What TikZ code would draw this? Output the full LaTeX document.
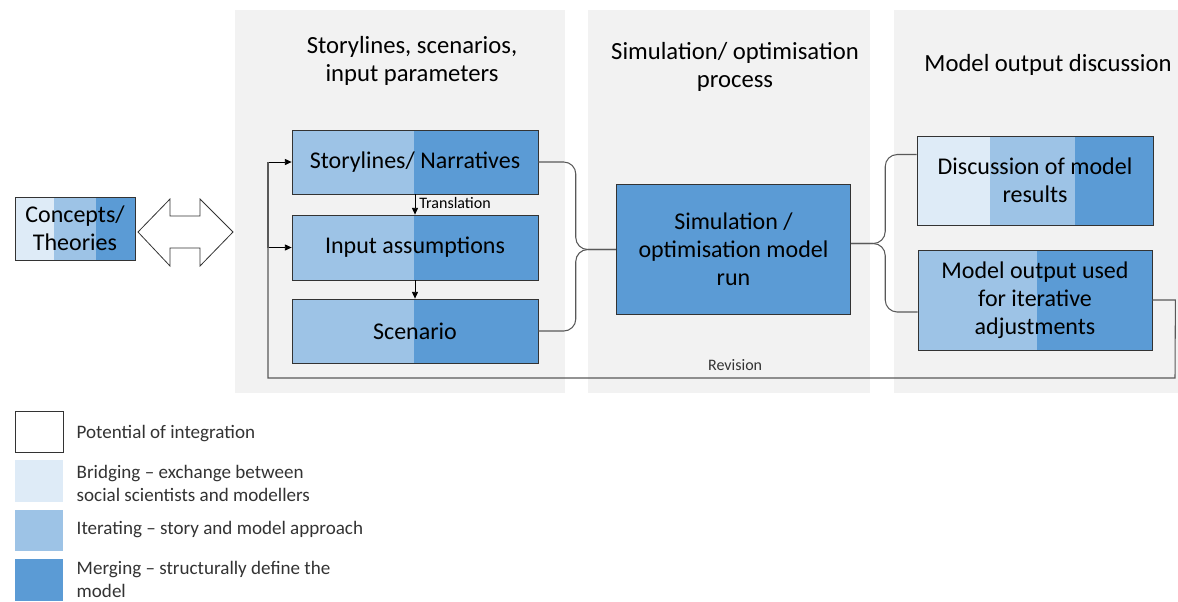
\documentclass[tikz,border=0pt]{standalone}
\usepackage{fontspec}
\setmainfont{Carlito}
\usetikzlibrary{arrows.meta, positioning, calc}

\definecolor{panelgrey}{HTML}{F2F2F2}
\definecolor{bridgeblue}{HTML}{DEEBF7}
\definecolor{iterblue}{HTML}{9DC3E6}
\definecolor{mergeblue}{HTML}{5B9BD5}
\definecolor{linegrey}{HTML}{595959}

\begin{document}
\begin{tikzpicture}[x=0.75pt, y=-0.75pt,
    box/.style={draw=black!80, line width=0.6pt, align=center, inner sep=0pt,
                font=\fontsize{18}{21}\selectfont},
    title/.style={align=center, font=\fontsize{18.5}{20.5}\selectfont},
    small/.style={font=\fontsize{12}{14}\selectfont, inner sep=1pt},
    legtext/.style={anchor=west, align=left, text=black!80,
                    font=\fontsize{14.3}{17.3}\selectfont},
    brace/.style={draw=linegrey, line width=0.8pt, rounded corners=9pt},
    loopline/.style={draw=linegrey, line width=0.8pt},
    arr/.style={-{Triangle[length=5pt,width=4.5pt]}, black, line width=0.6pt}]
                \useasboundingbox (0,0) rectangle (1178,601);

                % Panels
                \fill[panelgrey] (235,10) rectangle (565,393);
                \fill[panelgrey] (588,10) rectangle (870,393);
                \fill[panelgrey] (894,10) rectangle (1178,393);
                \node[title] (t1) at (412,61) {Storylines, scenarios,\\input parameters};
                \node[title] (t2) at (735,67) {Simulation/ optimisation\\process};
                \node[title] (t3) at (1048,65) {Model output discussion};

                % Concepts
                \fill[bridgeblue] (15,197) rectangle (54,260);
                \fill[iterblue] (54,197) rectangle (96,260);
                \fill[mergeblue] (96,197) rectangle (135,260);
                \node[box, minimum width=90pt, minimum height=47.25pt] (concepts) at (75,228.5) {Concepts/\\Theories};

                % Double arrow
                \draw[black!80, fill=white, line width=0.6pt]
                    (138,232) -- (170,199) -- (170,216) -- (200,216) -- (200,199)
                    -- (233,232) -- (200,266) -- (200,248) -- (170,248) -- (170,266) -- cycle;

                % Storylines column
                \fill[iterblue] (292,130) rectangle (414,194);
                \fill[mergeblue] (414,130) rectangle (538,194);
                \node[box, minimum width=184.5pt, minimum height=48pt] (story) at (415,162) {Storylines/ Narratives};
                \fill[iterblue] (292,215) rectangle (414,280);
                \fill[mergeblue] (414,215) rectangle (538,280);
                \node[box, minimum width=184.5pt, minimum height=48.75pt] (inp) at (415,247.5) {Input assumptions};
                \fill[iterblue] (292,299) rectangle (414,363);
                \fill[mergeblue] (414,299) rectangle (538,363);
                \node[box, minimum width=184.5pt, minimum height=48pt] (scen) at (415,331) {Scenario};

                \draw[arr] (story.south) -- (inp.north) node[small, pos=0.45, right=2pt] {Translation};
                \draw[arr] (inp.south) -- (scen.north);

                % Simulation
                \node[box, fill=mergeblue, minimum width=176pt, minimum height=97.5pt] (sim) at (733.5,249.5) {Simulation /\\optimisation model\\run};

                % Output boxes
                \fill[bridgeblue] (917,136) rectangle (990,225);
                \fill[iterblue] (990,136) rectangle (1075,225);
                \fill[mergeblue] (1075,136) rectangle (1153,225);
                \node[box, minimum width=177pt, minimum height=66.75pt] (disc) at (1035,180.5) {Discussion of model\\results};
                \fill[iterblue] (918,250) rectangle (1037,350);
                \fill[mergeblue] (1037,250) rectangle (1152,350);
                \node[box, minimum width=175.5pt, minimum height=75pt] (mout) at (1035,300) {Model output used\\for iterative\\adjustments};

                % Braces
                \coordinate (lbr) at ($(sim.west)+(-40,0)$);
                \draw[brace] (story.east) -| (lbr) -- (sim.west);
                \draw[brace] (scen.east) -| (lbr) -- (sim.west);
                \coordinate (rbr) at ($(sim.east)+(34,-6)$);
                \draw[brace] ($(sim.east)+(0,-6)$) -- (rbr) |- ($(disc.west)+(0,-26)$);
                \draw[brace] ($(sim.east)+(0,-6)$) -- (rbr) |- ($(mout.west)+(0,12)$);

                % Revision loop
                \coordinate (rv1) at ($(mout.east)+(23,0)$);
                \coordinate (rv2) at (1175,378);
                \coordinate (rv3) at (268,378);
                \coordinate (rv4) at (268,162);
                \draw[loopline] (mout.east) -- (rv1) -- (rv2) -- (rv3)
                    node[small, pos=0.485, above=4pt, text=black!80] (rev) {Revision} -- (rv4);
                \draw[arr] (rv4) -- (story.west);
                \draw[arr] (inp.west -| rv3) -- (inp.west);
                \draw[loopline] (rv4) -- (inp.west -| rv3);

                % Legend
                \node[draw=black!80, line width=0.6pt, minimum width=36pt, minimum height=30.75pt, inner sep=0pt] (lg1) at (39,431.5) {};
                \fill[bridgeblue] (15,460) rectangle (63,502);
                \fill[iterblue] (15,510) rectangle (63,551);
                \fill[mergeblue] (15,559) rectangle (63,601);
                \node[legtext] (lt1) at (72,434) {Potential of integration};
                \node[legtext] (lt2) at (72,483.5) {Bridging – exchange between\\social scientists and modellers};
                \node[legtext] (lt3) at (72,530) {Iterating – story and model approach};
                \node[legtext] (lt4) at (72,579) {Merging – structurally define the\\model};
            \end{tikzpicture}
\end{document}
